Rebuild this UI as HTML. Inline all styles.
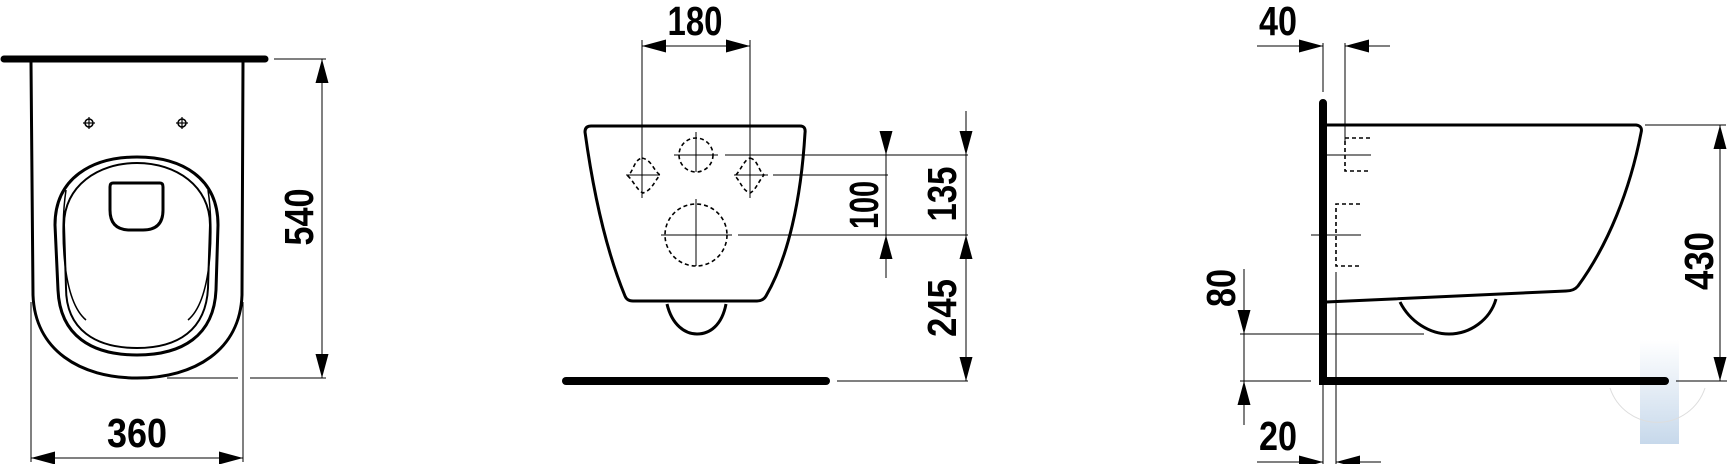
<!DOCTYPE html>
<html><head><meta charset="utf-8"><style>
html,body{margin:0;padding:0;background:#fff;}
svg{display:block;}
text{font-family:"Liberation Sans",sans-serif;font-weight:bold;font-size:41px;fill:#000;}
</style></head><body>
<svg width="1727" height="464" viewBox="0 0 1727 464" xmlns="http://www.w3.org/2000/svg">
<defs>
<marker id="a" markerUnits="userSpaceOnUse" markerWidth="26" markerHeight="14" refX="24" refY="6.5" orient="auto-start-reverse"><path d="M0,0 L24,6.5 L0,13 z" fill="#000"/></marker>
<linearGradient id="wm" x1="0" y1="0" x2="0" y2="1"><stop offset="0" stop-color="#fff"/><stop offset="1" stop-color="#b9cfe6"/></linearGradient>
</defs>

<!-- watermark -->
<rect x="1640" y="340" width="39" height="104" fill="url(#wm)" opacity="0.8"/>
<path d="M1610,388 A50,50 0 0 0 1705,388" fill="none" stroke="#ddd" stroke-width="1"/>

<!-- ============ LEFT VIEW ============ -->
<g fill="none" stroke="#000">
<line x1="4" y1="59" x2="265" y2="59" stroke-width="7" stroke-linecap="round"/>
<path d="M31,62 L33,295 C35,350 80,378 137,378 C195,378 240,350 242,295 L243,62" stroke-width="3"/>
<path d="M55,225 C55,178 92,157 137,157 C182,157 218,178 218,225 L216,290 C214,336 182,355 137,355 C92,355 60,336 58,290 Z" stroke-width="3"/>
<path d="M64,225 C64,186 98,163 137,163 C176,163 210,186 210,225 L208,288 C206,330 178,348 137,348 C96,348 66,330 66,288 Z" stroke-width="2"/>
<path d="M66,190 C60,230 62,300 86,320" stroke-width="1.5"/>
<path d="M208,190 C214,230 212,300 188,320" stroke-width="1.5"/>
<path d="M113,183 L160,183 Q163,183 163,187 L163,210 Q163,230 143,230 L130,230 Q110,230 110,210 L110,187 Q110,183 113,183 Z" stroke-width="3"/>
<circle cx="89" cy="123" r="4" stroke-width="1.5"/><line x1="83" y1="123" x2="95" y2="123" stroke-width="1.2"/><line x1="89" y1="117" x2="89" y2="129" stroke-width="1.2"/>
<circle cx="182" cy="123" r="4" stroke-width="1.5"/><line x1="176" y1="123" x2="188" y2="123" stroke-width="1.2"/><line x1="182" y1="117" x2="182" y2="129" stroke-width="1.2"/>
<g stroke-width="1">
<line x1="274" y1="59" x2="326" y2="59"/>
<line x1="167" y1="378" x2="238" y2="378"/><line x1="250" y1="378" x2="326" y2="378"/>
<line x1="322" y1="59" x2="322" y2="378" marker-start="url(#a)" marker-end="url(#a)"/>
<line x1="31" y1="302" x2="31" y2="462"/><line x1="243" y1="302" x2="243" y2="462"/>
<line x1="31" y1="458" x2="243" y2="458" marker-start="url(#a)" marker-end="url(#a)"/>
</g>
</g>
<text transform="translate(313,217) rotate(-90)" text-anchor="middle" textLength="57" lengthAdjust="spacingAndGlyphs">540</text>
<text x="137" y="447" text-anchor="middle" textLength="60" lengthAdjust="spacingAndGlyphs">360</text>

<!-- ============ CENTER VIEW ============ -->
<g fill="none" stroke="#000">
<path d="M591,126 L800,126 Q806,126 805,133 C801,200 788,258 766,296 Q763,301 757,301 L633,301 Q627,301 625,296 C606,250 593,190 585,132 Q585,126 591,126 Z" stroke-width="3"/>
<path d="M667,304 C672,325 685,334 697,334 C710,334 722,325 726,304" stroke-width="3"/>
<line x1="566" y1="381" x2="826" y2="381" stroke-width="8" stroke-linecap="round"/>
<g stroke-width="1.6" stroke-dasharray="4,3">
<circle cx="696" cy="155" r="17"/>
<circle cx="696" cy="235" r="31"/>
<path d="M642,158 C652,160 653,170 660,175 C654,182 652,190 643,193 C637,190 634,182 628,176 C634,170 634,160 642,158 Z"/>
<path d="M750,158 C758,160 758,170 764,175 C758,182 756,190 750,193 C742,190 741,182 735,176 C741,170 744,160 750,158 Z"/>
</g>
<g stroke-width="1">
<line x1="674" y1="155" x2="718" y2="155"/><line x1="696" y1="132" x2="696" y2="172"/>
<line x1="661" y1="235" x2="732" y2="235"/><line x1="696" y1="199" x2="696" y2="266"/>
<line x1="626" y1="175" x2="660" y2="175"/><line x1="734" y1="175" x2="768" y2="175"/>
<line x1="642" y1="40" x2="642" y2="198"/><line x1="750" y1="40" x2="750" y2="198"/>
<line x1="642" y1="46" x2="750" y2="46" marker-start="url(#a)" marker-end="url(#a)"/>
<line x1="725" y1="155" x2="968" y2="155"/>
<line x1="773" y1="175" x2="888" y2="175"/>
<line x1="738" y1="235" x2="968" y2="235"/>
<line x1="837" y1="381" x2="968" y2="381"/>
<line x1="886" y1="131" x2="886" y2="155" marker-end="url(#a)"/>
<line x1="886" y1="155" x2="886" y2="235"/>
<line x1="886" y1="278" x2="886" y2="235" marker-end="url(#a)"/>
<line x1="966" y1="111" x2="966" y2="155" marker-end="url(#a)"/>
<line x1="966" y1="155" x2="966" y2="381"/>
<line x1="966" y1="262" x2="966" y2="235" marker-end="url(#a)"/>
<line x1="966" y1="355" x2="966" y2="381" marker-end="url(#a)"/>
</g>
</g>
<text x="695" y="35" text-anchor="middle" textLength="55" lengthAdjust="spacingAndGlyphs">180</text>
<text transform="translate(878,205) rotate(-90)" text-anchor="middle" textLength="48" lengthAdjust="spacingAndGlyphs">100</text>
<text transform="translate(956,194) rotate(-90)" text-anchor="middle" textLength="55" lengthAdjust="spacingAndGlyphs">135</text>
<text transform="translate(956,308) rotate(-90)" text-anchor="middle" textLength="58" lengthAdjust="spacingAndGlyphs">245</text>

<!-- ============ RIGHT VIEW ============ -->
<g fill="none" stroke="#000">
<path d="M1323,103 L1323,381 L1665,381" stroke-width="8" stroke-linecap="round" stroke-linejoin="miter"/>
<path d="M1326,125 L1636,125 Q1643,126 1641,133 C1630,190 1608,245 1578,286 Q1574,291 1566,291 L1326,302" stroke-width="3"/>
<path d="M1400,302 C1410,322 1430,334 1449,334 C1470,334 1490,320 1496,299" stroke-width="3"/>
<g stroke-width="1.6" stroke-dasharray="4,3">
<path d="M1370,138 L1345,138 L1345,171 L1370,171"/>
<path d="M1360,204 L1336,204 L1336,266 L1360,266"/>
</g>
<g stroke-width="1">
<line x1="1326" y1="155" x2="1371" y2="155"/>
<line x1="1311" y1="235" x2="1361" y2="235"/>
<line x1="1323" y1="43" x2="1323" y2="92"/>
<line x1="1345" y1="43" x2="1345" y2="141"/>
<line x1="1257" y1="46" x2="1323" y2="46" marker-end="url(#a)"/>
<line x1="1390" y1="46" x2="1345" y2="46" marker-end="url(#a)"/>
<line x1="1323" y1="385" x2="1323" y2="464"/>
<line x1="1336" y1="272" x2="1336" y2="464"/>
<line x1="1257" y1="462" x2="1323" y2="462" marker-end="url(#a)"/>
<line x1="1381" y1="462" x2="1336" y2="462" marker-end="url(#a)"/>
<line x1="1240" y1="334" x2="1424" y2="334"/>
<line x1="1240" y1="381" x2="1311" y2="381"/>
<line x1="1244" y1="269" x2="1244" y2="334" marker-end="url(#a)"/>
<line x1="1244" y1="334" x2="1244" y2="381"/>
<line x1="1244" y1="425" x2="1244" y2="381" marker-end="url(#a)"/>
<line x1="1645" y1="125" x2="1726" y2="125"/>
<line x1="1676" y1="381" x2="1727" y2="381"/>
<line x1="1720" y1="125" x2="1720" y2="381" marker-start="url(#a)" marker-end="url(#a)"/>
</g>
</g>
<text x="1278" y="35" text-anchor="middle" textLength="38" lengthAdjust="spacingAndGlyphs">40</text>
<text x="1278" y="450" text-anchor="middle" textLength="38" lengthAdjust="spacingAndGlyphs">20</text>
<text transform="translate(1235,288) rotate(-90)" text-anchor="middle" textLength="38" lengthAdjust="spacingAndGlyphs">80</text>
<text transform="translate(1713,261) rotate(-90)" text-anchor="middle" textLength="58" lengthAdjust="spacingAndGlyphs">430</text>
</svg>
</body></html>
